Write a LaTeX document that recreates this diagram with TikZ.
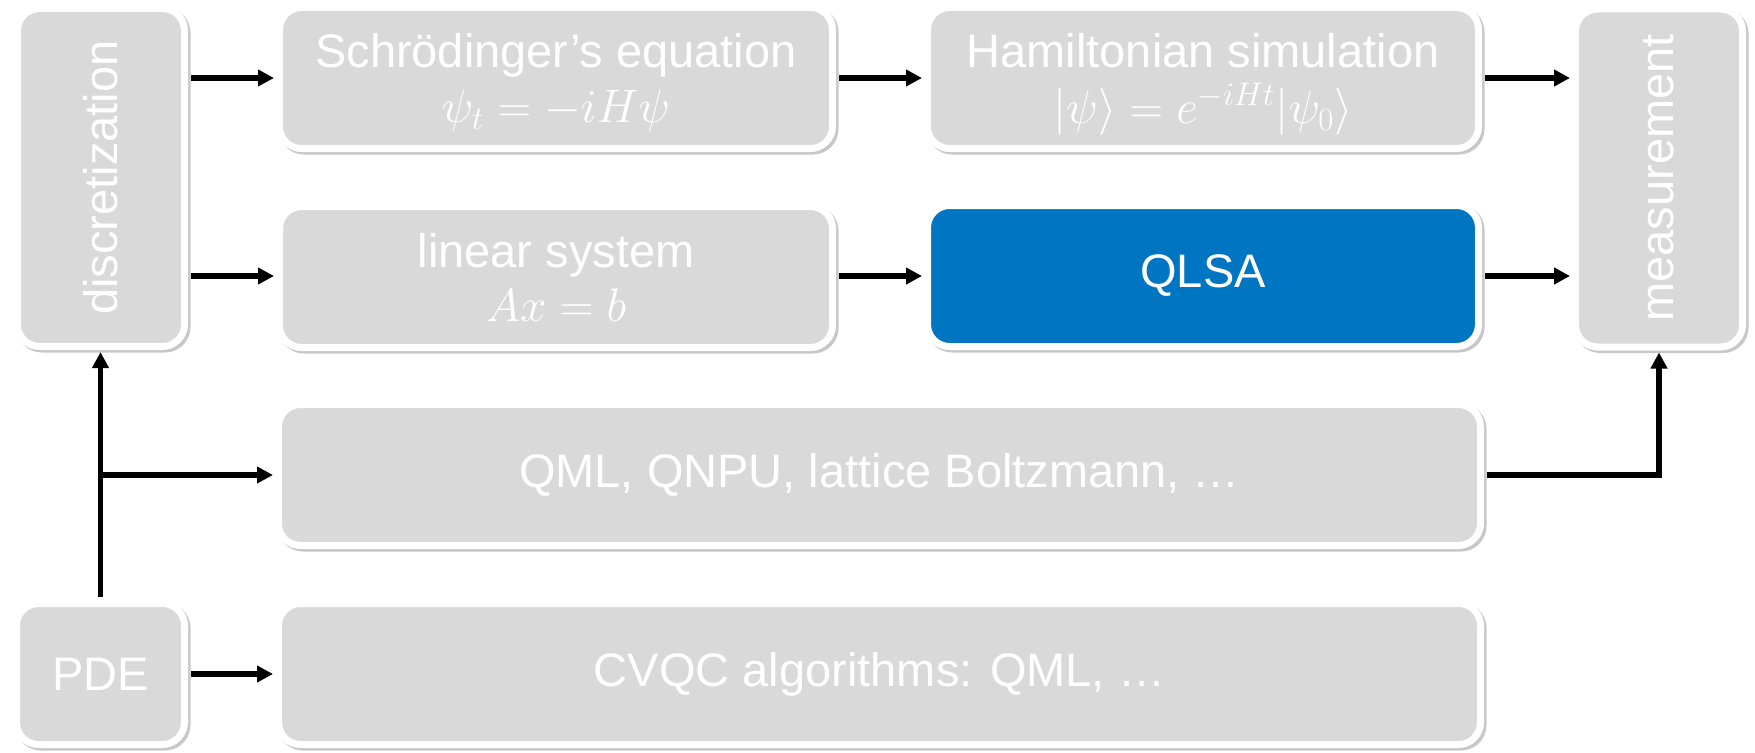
\documentclass[tikz,border=0pt]{standalone}
\usepackage[no-math]{fontspec}
\setmainfont{Liberation Sans}
\usepackage{graphicx}
\DeclareMathSizes{24.88}{24.88}{17.28}{12}
\newcommand{\bigmath}[1]{\smash{\scalebox{1.89}{\fontsize{24.88}{28}\selectfont$#1$}}}
\usetikzlibrary{arrows.meta,shadows}
\definecolor{boxgray}{HTML}{D9D9D9}
\definecolor{qblue}{HTML}{0075C2}
\begin{document}
\begin{tikzpicture}[x=1pt,y=-1pt,
  box/.style={draw=white, line width=7pt, fill=boxgray, rounded corners=22pt,
    text=white, align=center, inner sep=0pt,
    font=\fontsize{47}{51}\selectfont,
    drop shadow={shadow xshift=2.5pt, shadow yshift=-2.5pt, opacity=0.22,
      fill=black, draw=black, line width=7pt}},
  wide/.style={minimum width=553pt, minimum height=141pt},
  tall/.style={minimum width=167pt, minimum height=338pt},
  arr/.style={line width=5.5pt, -{Triangle[length=16pt,width=16pt]},
    shorten <=3pt, shorten >=2pt},
  ]
\useasboundingbox (0,0) rectangle (1755,752);

\node[box, tall] (disc) at (101,177.5) {\rotatebox{90}{discretization}};
\node[box, tall] (meas) at (1659,178) {\rotatebox{90}{measurement}};
\node[box, wide] (schr) at (556,78) {Schrödinger’s equation\\[4pt] \bigmath{\psi_t=-iH\psi}};
\node[box, wide, minimum width=551pt] (ham) at (1203,78) {Hamiltonian simulation\\[5pt] \bigmath{|\psi\rangle=e^{-iHt}|\psi_0\rangle}};
\node[box, wide] (lin) at (556,277) {linear system\\[3pt] \bigmath{Ax=b}};
\node[box, wide, minimum width=551pt, fill=qblue] (qlsa) at (1203,276) {QLSA};
\node[box, minimum width=1202pt, minimum height=141pt] (qml) at (879.5,475) {QML, QNPU, lattice Boltzmann, …};
\node[box, minimum width=168pt, minimum height=141pt] (pde) at (100.5,674) {PDE};
\node[box, minimum width=1202pt, minimum height=141pt] (cvqc) at (879.5,674) {CVQC algorithms: QML, …};

\draw[arr] (disc.east |- schr.west) -- (schr.west);
\draw[arr] (disc.east |- qlsa.west) -- (disc.east |- qlsa.west -| lin.west);
\draw[arr] (schr.east) -- (ham.west);
\draw[arr] (lin.east |- qlsa.west) -- (qlsa.west);
\draw[arr] (ham.east) -- (ham.east -| meas.west);
\draw[arr] (qlsa.east) -- (qlsa.east -| meas.west);
\draw[arr] (qml.east) -| (meas.south);
\draw[arr] (pde.north) -- (pde.north |- disc.south);
\draw[arr, shorten <=0pt] (pde.north |- qml.west) -- (qml.west);
\draw[arr] (pde.east) -- (cvqc.west);
\end{tikzpicture}
\end{document}
